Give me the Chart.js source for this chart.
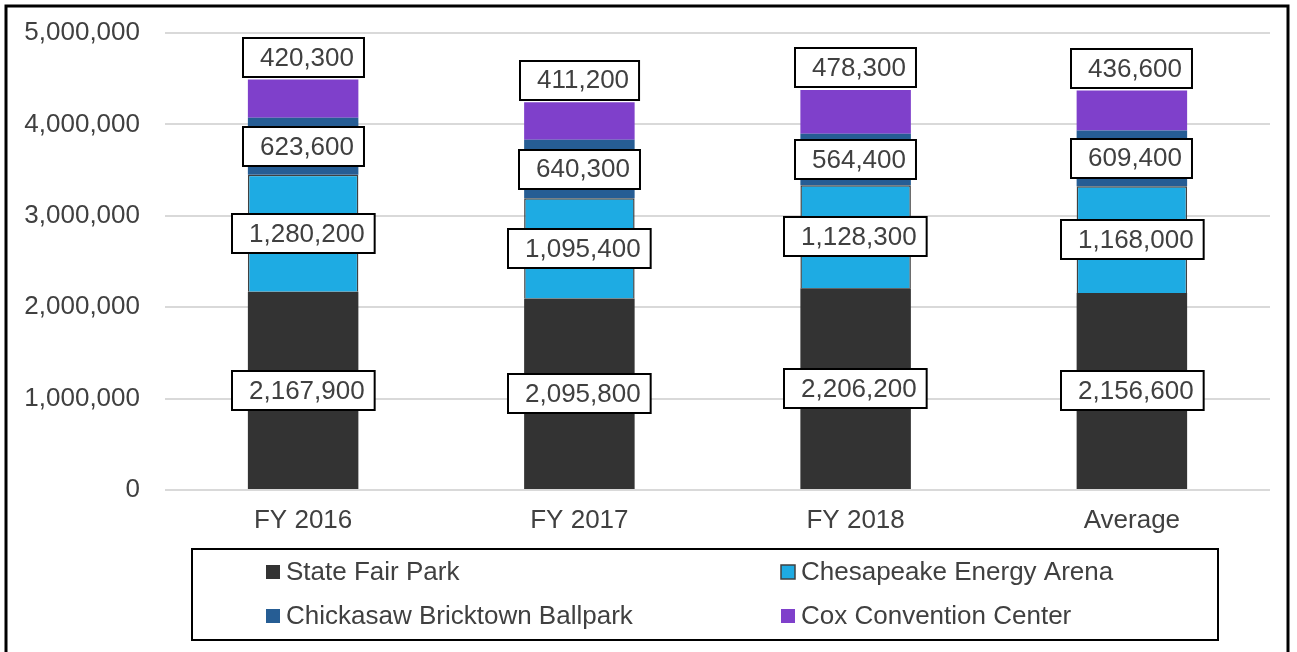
<!DOCTYPE html>
<html>
<head>
<meta charset="utf-8">
<script src="https://cdn.jsdelivr.net/npm/chart.js@4.4.0/dist/chart.umd.min.js"></script>
<style>
  html, body { margin: 0; padding: 0; background: #fff; }
  #wrap { width: 1297px; height: 652px; }
</style>
</head>
<body>
<div id="wrap"><canvas id="myChart" width="1297" height="652"></canvas></div>
<script>
"use strict";

// ========== chart data ========== //
const years = ['FY 2016', 'FY 2017', 'FY 2018', 'Average'];
const stateFairPark = [2167900, 2095800, 2206200, 2156600];
const chesapeakeArena = [1280200, 1095400, 1128300, 1168000];
const bricktownBallpark = [623600, 640300, 564400, 609400];
const coxCenter = [420300, 411200, 478300, 436600];
const yTicks = [0, 1000000, 2000000, 3000000, 4000000, 5000000];

const FONT = '"Liberation Sans", Arial, sans-serif';
const TEXT_COLOR = '#404040';

function fmt(n) {
    return n.toLocaleString('en-US');
}

// white boxed value labels on each segment
const boxLabels = {
    id: 'boxLabels',
    afterDatasetsDraw(chart) {
        const ctx = chart.ctx;
        const last = chart.data.datasets.length - 1;
        ctx.save();
        ctx.font = '26px ' + FONT;
        ctx.textBaseline = 'middle';
        ctx.textAlign = 'right';
        chart.data.datasets.forEach((ds, i) => {
            const meta = chart.getDatasetMeta(i);
            meta.data.forEach((bar, j) => {
                const text = fmt(ds.data[j]);
                const tw = ctx.measureText(text).width;
                const w = tw + 27;
                const h = 39;
                let cy = (bar.y + bar.base) / 2;
                if (i === last) cy = bar.y - 22; // top label sits above the bar
                const x0 = Math.round(bar.x - w / 2);
                const y0 = Math.round(cy - h / 2);
                ctx.fillStyle = '#fff';
                ctx.fillRect(x0, y0, w, h);
                ctx.lineWidth = 2;
                ctx.strokeStyle = '#000';
                ctx.strokeRect(x0, y0, w, h);
                ctx.fillStyle = TEXT_COLOR;
                ctx.fillText(text, x0 + w - 10, cy + 1);
            });
        });
        ctx.restore();
    }
};

// legend box at the bottom + outer frame
const boxLegend = {
    id: 'boxLegend',
    afterDraw(chart) {
        const ctx = chart.ctx;
        ctx.save();
        ctx.lineWidth = 2;
        ctx.strokeStyle = '#000';
        ctx.strokeRect(192, 549, 1026, 91);
        ctx.lineWidth = 3;
        ctx.strokeRect(6, 6, 1282, 660);

        const cols = [266, 781];
        const rows = [572, 616];
        ctx.font = '26px ' + FONT;
        ctx.textBaseline = 'middle';
        ctx.textAlign = 'left';
        chart.data.datasets.forEach((ds, i) => {
            const x = cols[i % 2];
            const y = rows[Math.floor(i / 2)];
            ctx.fillStyle = ds.backgroundColor;
            ctx.fillRect(x, y - 7, 14, 14);
            if (ds.borderWidth) {
                ctx.lineWidth = 1.5;
                ctx.strokeStyle = ds.borderColor;
                ctx.strokeRect(x, y - 7, 14, 14);
            }
            ctx.fillStyle = TEXT_COLOR;
            ctx.fillText(ds.label, x + 20, y + 1);
        });
        ctx.restore();
    }
};

let chartContainer = document.querySelector('#myChart');
let chart = new Chart(chartContainer, {
    type: 'bar',
    data: {
        labels: years,
        datasets: [{
            label: 'State Fair Park',
            data: stateFairPark,
            backgroundColor: '#333333',
            borderWidth: 0
        }, {
            label: 'Chesapeake Energy Arena',
            data: chesapeakeArena,
            backgroundColor: '#1eabe3',
            borderColor: '#404040',
            borderWidth: 1.5
        }, {
            label: 'Chickasaw Bricktown Ballpark',
            data: bricktownBallpark,
            backgroundColor: '#265d94',
            borderWidth: 0
        }, {
            label: 'Cox Convention Center',
            data: coxCenter,
            backgroundColor: '#7f40cb',
            borderWidth: 0
        }]
    },
    options: {
        responsive: false,
        animation: false,
        devicePixelRatio: 1,
        layout: { padding: { left: 0, top: 33, right: 27, bottom: 112 } },
        datasets: { bar: { barPercentage: 0.8, categoryPercentage: 0.5 } },
        plugins: {
            legend: { display: false },
            tooltip: { enabled: false }
        },
        scales: {
            x: {
                stacked: true,
                grid: { display: false, drawTicks: false },
                border: { display: false },
                ticks: { color: TEXT_COLOR, font: { family: FONT, size: 26 }, padding: 15 },
                afterFit(axis) { axis.height = 50; }
            },
            y: {
                stacked: true,
                min: 0,
                max: 5000000,
                afterBuildTicks(axis) { axis.ticks = yTicks.map(v => ({ value: v })); },
                grid: { color: '#d9d9d9', lineWidth: 2, drawTicks: false },
                border: { display: false },
                ticks: {
                    color: TEXT_COLOR,
                    font: { family: FONT, size: 26 },
                    padding: 25,
                    callback: v => fmt(v)
                },
                afterFit(axis) {
                    axis.width = 165;
                    axis.paddingTop = 0; // let layout padding decide the top
                    axis.paddingBottom = 0;
                }
            }
        }
    },
    plugins: [boxLabels, boxLegend]
});
</script>
</body>
</html>
